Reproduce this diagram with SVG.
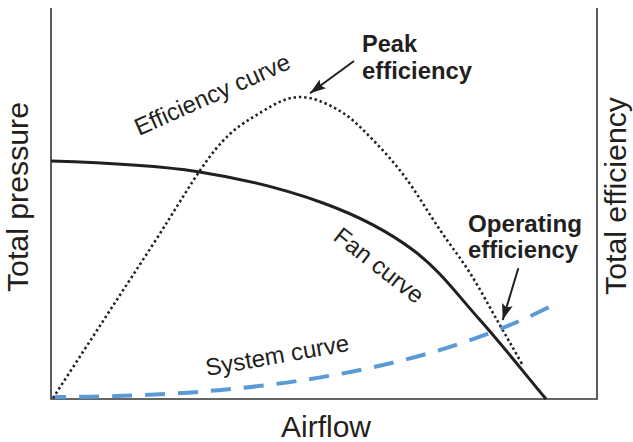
<svg xmlns="http://www.w3.org/2000/svg" width="633" height="442" viewBox="0 0 633 442">
<style>
.axis{fill:none;stroke:#333;stroke-width:1.6}
.fan{fill:none;stroke:#231f20;stroke-width:3}
.eff{fill:none;stroke:#231f20;stroke-width:2.6;stroke-dasharray:2.4 2.9}
.sys{fill:none;stroke:#5b9bd5;stroke-width:4;stroke-dasharray:20 13}
.lbl{font-family:"Liberation Sans",Arial,sans-serif;fill:#231f20}
.big{font-size:29px}
.mid{font-size:24px}
.bold{font-size:23.5px;font-weight:bold}
.arr{fill:none;stroke:#231f20;stroke-width:2}
</style>
<defs>
<marker id="ah" markerUnits="userSpaceOnUse" markerWidth="18" markerHeight="12" refX="16" refY="6" orient="auto">
<path d="M0,0.5 L16,6 L0,11.5 L3,6 z" fill="#231f20"/>
</marker>
</defs>
<rect width="633" height="442" fill="#fff"/>
<g id="axes">
<path class="axis" d="M51,8 V399 H597 V8"/>
</g>
<g id="efficiency-curve">
<path class="eff" d="M53,398 C85.3,348.3 123,290.3 150,249 C177,207.7 196.3,172.9 215,150 C233.7,127.1 247.8,120.5 262,111.7 C276.2,102.9 287,97.1 300,97 C313,96.9 327.8,103.8 340,111 C352.2,118.2 362.2,129 373,140 C383.8,151 393.8,162 405,177 C416.2,192 429.2,214 440,230 C450.8,246 460.5,258 470,273 C479.5,288 488.7,305.5 497,320 C505.3,334.5 513,348 522,364"/>
</g>
<g id="system-curve">
<path class="sys" stroke-dashoffset="9" d="M55,397 Q375,397 553,305"/>
</g>
<g id="fan-curve">
<path class="fan" d="M51,161 C100,162.5 152.7,164.7 198,171.7 C243.3,178.7 287.2,190 323,203 C358.8,216 386.8,230.5 413,250 C439.2,269.5 457.8,295.2 480,320 C502.2,344.8 524,372.7 546,399"/>
</g>
<g id="connectors">
<line class="arr" x1="354" y1="61" x2="310" y2="93.3" marker-end="url(#ah)"/>
<line class="arr" x1="518.3" y1="268.3" x2="502.7" y2="320" marker-end="url(#ah)"/>
</g>
<g id="label-total-pressure">
<text class="lbl big" transform="translate(28,197) rotate(-90)" text-anchor="middle" textLength="190" lengthAdjust="spacingAndGlyphs">Total pressure</text>
</g>
<g id="label-total-efficiency">
<text class="lbl big" transform="translate(626,196) rotate(-90)" text-anchor="middle" textLength="198" lengthAdjust="spacingAndGlyphs">Total efficiency</text>
</g>
<g id="label-airflow">
<text class="lbl" x="326" y="437" font-size="30" text-anchor="middle">Airflow</text>
</g>
<g id="label-efficiency-curve">
<text class="lbl mid" transform="translate(139,136) rotate(-24)">Efficiency curve</text>
</g>
<g id="label-fan-curve">
<text class="lbl mid" transform="translate(332,239) rotate(38)">Fan curve</text>
</g>
<g id="label-system-curve">
<text class="lbl mid" transform="translate(207,376) rotate(-10)">System curve</text>
</g>
<g id="label-peak-efficiency">
<text class="lbl bold" x="362" y="52" textLength="55" lengthAdjust="spacingAndGlyphs">Peak</text>
<text class="lbl bold" x="362" y="79" textLength="110" lengthAdjust="spacingAndGlyphs">efficiency</text>
</g>
<g id="label-operating-efficiency">
<text class="lbl bold" x="468" y="231.5" textLength="114" lengthAdjust="spacingAndGlyphs">Operating</text>
<text class="lbl bold" x="468" y="258" textLength="110" lengthAdjust="spacingAndGlyphs">efficiency</text>
</g>
</svg>
